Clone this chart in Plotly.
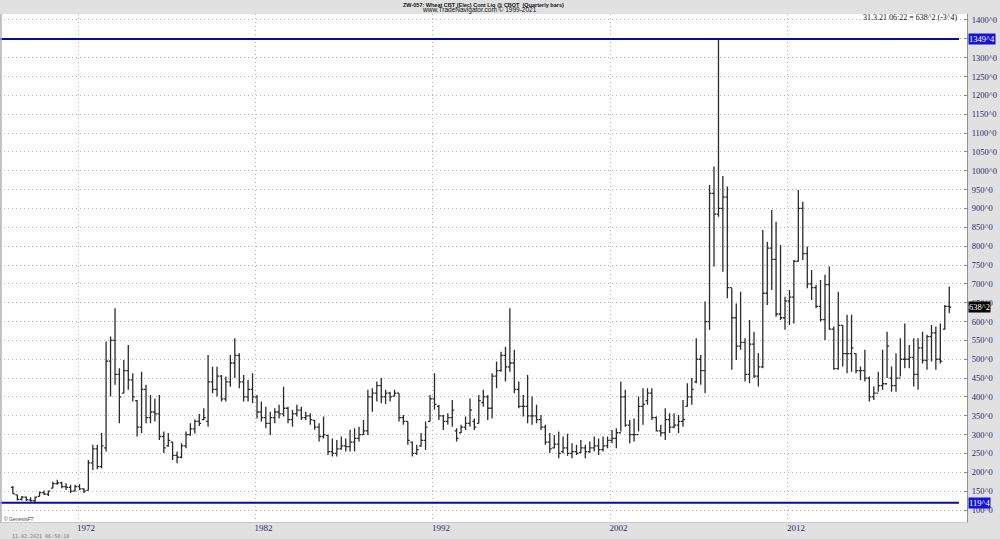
import pandas as pd
import plotly.graph_objects as go

# ---- data (quarterly OHLC, Q2 1968 .. Q1 2021) ----
highs = [164, 140, 137, 136, 134, 136, 149, 152, 152, 175, 180, 175, 171, 167, 167, 169, 158, 233, 273, 273,
         304, 547, 560, 635, 476, 498, 538, 463, 392, 467, 432, 405, 396, 405, 308, 304, 282, 255, 277, 308,
         330, 340, 355, 370, 511, 480, 480, 458, 454, 511, 556, 516, 458, 445, 463, 405, 388, 374, 361, 370,
         379, 427, 374, 366, 379, 374, 361, 357, 339, 330, 348, 299, 290, 286, 295, 290, 313, 317, 321, 339,
         419, 423, 441, 450, 419, 414, 419, 410, 352, 335, 282, 273, 304, 335, 405, 463, 379, 352, 357, 392,
         317, 326, 348, 396, 343, 405, 419, 405, 463, 494, 520, 533, 635, 525, 441, 405, 458, 401, 379, 352,
         326, 304, 299, 308, 295, 302, 277, 273, 286, 273, 282, 295, 290, 295, 295, 312, 317, 441, 419, 339,
         343, 401, 423, 423, 423, 348, 326, 370, 357, 357, 352, 392, 436, 450, 556, 511, 653, 962, 1011, 1349.5,
         986, 958, 688, 648, 679, 556, 604, 573, 516, 843, 812, 896, 865, 803, 666, 684, 763, 949, 918, 799,
         737, 697, 710, 724, 746, 587, 679, 591, 618, 618, 516, 481, 525, 454, 428, 467, 525, 573, 481, 516,
         556, 595, 538, 556, 556, 573, 565, 591, 587, 595, 644, 693]
lows = [143, 125, 125, 124, 122, 120, 136, 140, 137, 158, 167, 158, 153, 145, 149, 153, 145, 152, 206, 208,
        211, 255, 401, 432, 330, 410, 419, 388, 295, 304, 330, 330, 335, 286, 251, 268, 233, 224, 237, 264,
        297, 303, 323, 339, 321, 410, 401, 388, 388, 427, 450, 423, 388, 388, 383, 343, 335, 317, 299, 330,
        343, 348, 330, 321, 348, 339, 339, 326, 313, 282, 290, 246, 242, 242, 260, 255, 255, 255, 282, 299,
        299, 361, 388, 383, 381, 388, 401, 335, 326, 273, 242, 246, 268, 259, 335, 366, 339, 312, 326, 321,
        282, 304, 312, 321, 312, 330, 374, 339, 343, 423, 467, 441, 467, 410, 370, 348, 330, 326, 330, 312,
        273, 251, 264, 237, 250, 244, 237, 246, 251, 237, 251, 255, 246, 255, 264, 277, 264, 308, 321, 277,
        282, 308, 326, 379, 339, 308, 295, 286, 304, 317, 304, 321, 374, 379, 436, 432, 410, 578, 746, 878,
        732, 662, 472, 498, 525, 441, 436, 450, 428, 476, 644, 684, 613, 604, 578, 591, 595, 759, 763, 688,
        657, 635, 600, 551, 578, 472, 472, 481, 463, 467, 463, 445, 441, 388, 392, 414, 419, 450, 414, 414,
        454, 476, 476, 428, 419, 489, 472, 494, 472, 489, 578, 622]
opens = [160, 140, 128, 134, 127, 125, 136, 146, 142, 158, 170, 172, 162, 160, 150, 162, 156, 152, 225, 262,
         215, 265, 495, 550, 460, 410, 470, 445, 390, 320, 420, 345, 360, 355, 295, 270, 280, 245, 240, 270,
         300, 315, 335, 340, 335, 440, 420, 455, 395, 440, 490, 510, 440, 400, 420, 400, 360, 345, 330, 345,
         360, 355, 370, 340, 355, 365, 345, 350, 338, 320, 295, 298, 255, 250, 262, 270, 268, 280, 290, 300,
         310, 400, 410, 430, 400, 410, 402, 410, 345, 335, 280, 250, 270, 285, 335, 395, 375, 350, 335, 345,
         310, 305, 320, 330, 335, 330, 385, 400, 370, 455, 470, 510, 480, 490, 420, 375, 375, 350, 350, 340,
         320, 280, 265, 275, 255, 265, 250, 255, 252, 265, 255, 265, 270, 260, 270, 285, 290, 305, 400, 325,
         300, 300, 375, 390, 410, 345, 310, 305, 340, 320, 325, 335, 375, 400, 440, 500, 470, 600, 940, 885,
         900, 930, 690, 610, 535, 545, 460, 540, 455, 480, 675, 795, 765, 620, 610, 655, 665, 760, 900, 780,
         700, 690, 640, 605, 698, 580, 475, 590, 515, 515, 515, 470, 470, 450, 400, 410, 430, 435, 450, 430,
         450, 500, 500, 505, 460, 530, 497, 560, 570, 500, 580, 640]
closes = [143, 128, 134, 127, 125, 134, 146, 142, 150, 170, 172, 162, 160, 150, 162, 156, 150, 225, 262, 215,
          270, 495, 550, 460, 400, 470, 445, 400, 320, 420, 345, 360, 355, 295, 265, 285, 245, 240, 270, 300,
          315, 335, 330, 345, 440, 420, 455, 395, 440, 490, 510, 440, 400, 420, 400, 360, 345, 330, 345, 360,
          355, 370, 340, 355, 365, 345, 350, 340, 320, 295, 300, 255, 250, 262, 270, 268, 280, 290, 300, 310,
          400, 410, 430, 400, 410, 400, 410, 345, 335, 285, 250, 260, 285, 320, 395, 380, 350, 335, 345, 365,
          290, 320, 330, 365, 320, 390, 400, 370, 455, 470, 510, 480, 490, 420, 375, 375, 350, 350, 340, 320,
          280, 262, 275, 250, 265, 250, 255, 250, 265, 255, 265, 270, 260, 270, 285, 290, 305, 400, 325, 300,
          300, 375, 380, 410, 345, 310, 305, 340, 320, 325, 335, 340, 400, 420, 500, 470, 600, 940, 885, 900,
          930, 690, 610, 535, 545, 460, 540, 455, 480, 675, 795, 765, 620, 610, 655, 665, 760, 900, 780, 700,
          690, 640, 605, 698, 580, 475, 590, 515, 515, 530, 470, 470, 450, 400, 410, 430, 435, 535, 430, 450,
          500, 500, 505, 460, 530, 497, 560, 570, 500, 495, 640, 638.25]
dates = pd.date_range("1968-05-01", periods=len(highs), freq="3MS")

year_ticks = ["1972", "1982", "1992", "2002", "2012"]
price_ticks = list(range(100, 1401, 50))
# the 1350 label sits fully under the 1349^4 marker box in the original
price_labels = ["" if v == 1350 else f"{v}^0" for v in price_ticks]
high_mark, high_label = 1349.5, "1349^4"
low_mark, low_label = 119.5, "119^4"
last_value, last_label = 638.25, "638^2"
status_text = "31.3.21 06:22 = 638^2 (-3^4)"

NAVY = "#2a2a70"
SERIF = "Liberation Serif"
SANS = "Liberation Sans"

fig = go.Figure()
fig.add_trace(go.Ohlc(
    x=dates, open=opens, high=highs, low=lows, close=closes,
    increasing=dict(line=dict(color="#2a2a2a", width=1.3)),
    decreasing=dict(line=dict(color="#2a2a2a", width=1.3)),
    tickwidth=0.45, showlegend=False, hoverinfo="skip",
))

# blue extreme lines
for v in (high_mark, low_mark):
    fig.add_shape(type="line", xref="paper", yref="y", x0=0, x1=0.9917, y0=v, y1=v,
                  line=dict(color="#0a0aa8", width=2))
# left border
fig.add_shape(type="line", xref="paper", yref="paper", x0=0.001, x1=0.001, y0=0, y1=1,
              line=dict(color="#b0b0b0", width=1.5))

ann = []
for v, t, bg in ((high_mark, high_label, "#1414d8"), (low_mark, low_label, "#1414d8"),
                 (last_value, last_label, "#000000")):
    ann.append(dict(xref="paper", yref="y", x=1, y=v, xanchor="left", yanchor="middle", xshift=1,
                    text=t, showarrow=False, bgcolor=bg, borderpad=0,
                    font=dict(family=SERIF, size=8.5, color="white")))
ann.append(dict(xref="paper", yref="paper", x=0.993, y=0.994, xanchor="right", yanchor="middle",
                text=status_text, showarrow=False, font=dict(family=SERIF, size=8, color="#111")))
ann.append(dict(xref="paper", yref="paper", x=0.5, y=1.0187, xanchor="center", yanchor="middle",
                text="<b>ZW-057: Wheat CBT (Elec) Cont Liq @ CBOT  (Quarterly bars)</b>", showarrow=False,
                xshift=0, font=dict(family=SANS, size=5.5, color="#111")))
ann.append(dict(xref="paper", yref="paper", x=0.5, y=1.0075, xanchor="center", yanchor="middle",
                text="www.TradeNavigator.com © 1999-2021", showarrow=False, xshift=-4,
                font=dict(family=SANS, size=6.5, color="#111")))
ann.append(dict(xref="paper", yref="paper", x=0.002, y=0.006, xanchor="left", yanchor="middle",
                text="© GenesisFT", showarrow=False, font=dict(family=SANS, size=5, color="#444")))
ann.append(dict(xref="paper", yref="paper", x=0.0103, y=-0.0285, xanchor="left", yanchor="middle",
                text="11.02.2021 06:58:18", showarrow=False,
                font=dict(family="DejaVu Sans Mono", size=5, color="#777")))

fig.update_layout(
    width=1000, height=539,
    margin=dict(l=0, r=33, t=14, b=17, pad=0),
    paper_bgcolor="#e1e1e1", plot_bgcolor="white",
    annotations=ann, showlegend=False,
    xaxis=dict(
        type="date", range=["1967-08-10", "2022-02-01"],
        rangeslider=dict(visible=False),
        tickmode="array", tickvals=[f"{y}-01-01" for y in year_ticks], ticktext=year_ticks,
        showgrid=True, gridcolor="#b4b4b4", griddash="1px,3px", gridwidth=1,
        ticks="", ticklabelshift=8, ticklabelstandoff=-3,
        tickfont=dict(family=SERIF, size=9, color=NAVY),
        showline=True, linecolor="#c8c8c8", linewidth=1, zeroline=False,
    ),
    yaxis=dict(
        side="right", range=[68.2, 1415.9],
        tickmode="array", tickvals=price_ticks, ticktext=price_labels,
        showgrid=True, gridcolor="#b4b4b4", griddash="1px,3px", gridwidth=1,
        ticks="inside", ticklen=3, tickcolor="#888", ticklabelstandoff=2,
        tickfont=dict(family=SERIF, size=8.5, color=NAVY),
        showline=True, linecolor="#909090", linewidth=1, zeroline=False,
    ),
)

fig.write_html("out.html", config={"displayModeBar": False},
               post_script="document.body.style.margin='0';")
